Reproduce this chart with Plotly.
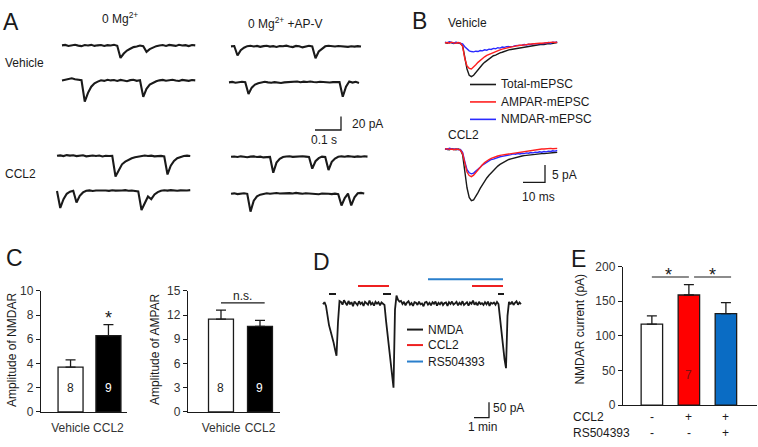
import plotly.graph_objects as go

W, H = 758, 447
FONT = "Liberation Sans, Arial, sans-serif"
INK = "#1a1a1a"
FS = 12

# ---------------- Panel A: mEPSC recordings (pA, sampled every DT_A s) ----------------
DT_A = 0.0125
A_VEH_0MG_1 = [0.5,1.2,-0.3,0.8,1.5,0.2,-0.6,1.0,0.4,1.3,-0.2,0.6,1.1,-0.4,0.9,0.3,1.4,0.0,-18.0,-11.5,
               -7.0,-4.5,-2.0,-1.2,0.3,-0.8,-9.0,-5.0,-2.5,-0.6,0.4,1.0,-0.3,1.2,0.5,-0.2,1.4,0.3,0.9,-0.5,1.1,0.6]
A_VEH_0MG_2 = [0.3,1.0,2.5,3.5,2.0,1.5,0.5,-31.0,-18.0,-9.0,-4.0,-1.5,0.5,-0.4,1.2,0.3,0.8,-0.5,1.0,0.2,
               -0.8,0.7,1.3,-0.3,0.5,-24.0,-12.0,-6.0,-3.0,-1.0,0.4,1.1,-0.2,0.8,1.3,0.2,-0.5,1.0,0.6,-0.3,0.9,0.4]
A_VEH_APV_1 = [0.5,1.0,-13.0,-5.0,-1.5,0.8,1.5,0.3,1.2,-0.2,0.9,1.4,0.2,0.8,-0.3,1.1,0.6,1.5,0.4,-0.5,
               1.2,0.7,-1.0,0.3,1.3,0.5,-17.0,-7.0,-2.5,0.6,1.4,0.9,0.3,1.0,0.4,0.8,-0.2,0.6,0.2,0.9,0.3]
A_VEH_APV_2 = [0.3,1.0,-0.2,0.8,1.2,0.5,-17.0,-7.5,-3.0,-1.0,0.4,1.1,0.3,-0.2,0.6,0.0,-0.6,0.3,0.8,0.2,
               1.0,1.5,0.5,1.3,0.8,1.6,0.9,0.4,1.2,0.6,1.0,0.2,0.7,0.4,0.9,-21.0,-6.0,1.5,0.0,1.2,-0.5]
A_CCL2_0MG_1 = [0.5,1.2,0.2,1.6,0.8,1.3,0.1,0.9,1.4,-0.2,0.7,1.0,0.3,0.9,-0.4,0.6,0.2,0.5,-30.0,-20.0,
                -12.0,-8.0,-5.0,-3.0,-1.5,-0.5,0.3,1.0,0.2,0.8,-0.3,0.6,0.4,-0.5,-27.0,-14.0,-7.0,-3.0,-1.0,0.3,0.8,0.2]
A_CCL2_0MG_2 = [0.0,-25.0,-12.0,-4.0,-1.0,0.5,-17.0,-7.0,-2.0,0.4,1.0,0.2,0.8,1.2,0.5,0.9,0.3,1.1,0.6,0.2,
                0.8,1.3,0.4,0.7,0.0,-0.5,-28.0,-18.0,-8.0,-12.0,-5.0,-1.5,0.5,1.1,0.6,1.3,0.8,0.4,1.0,1.5,0.9,1.3]
A_CCL2_APV_1 = [0.5,1.0,0.3,1.2,0.6,-0.2,0.8,1.1,0.2,0.7,-0.4,0.5,0.3,-23.0,-8.0,-2.5,0.2,0.9,1.3,0.4,
                1.0,0.6,1.4,0.8,0.2,-17.0,-6.0,-1.5,0.8,0.3,-19.0,-7.0,-2.0,0.5,1.2,0.7,1.5,0.9,0.4,1.1,0.6,1.3,0.8]
A_CCL2_APV_2 = [0.3,0.9,-0.2,0.6,1.1,0.2,-26.0,-10.0,-3.5,-1.0,0.5,1.0,0.3,0.8,1.3,0.6,1.0,0.4,1.2,0.7,
                1.5,0.9,0.3,1.1,0.5,0.8,0.2,-0.5,0.6,1.0,0.4,-0.3,0.5,-0.2,-17.0,-6.0,0.5,-17.0,-5.0,1.0,1.6,0.8]
A_SCALE = (0.1, 20)  # s, pA

# ---------------- Panel B: averaged mEPSCs (pA, every DT_B ms) ----------------
DT_B = 1.0
B_VEH_TOTAL = [0.1,-0.1,0.2,0.0,-0.2,0.1,0.0,-0.2,-0.8,-4.0,-7.5,-9.3,-9.7,-9.3,-8.5,-7.6,-6.9,-6.2,
               -5.6,-5.1,-4.5,-4.2,-3.7,-3.5,-3.1,-2.9,-2.7,-2.4,-2.3,-2.0,-1.9,-1.8,-1.6,-1.5,-1.3,-1.3,
               -1.1,-1.0,-1.0,-0.8,-0.8,-0.7,-0.6,-0.6,-0.4,-0.5,-0.3,-0.2,-0.3,-0.1,0.0,0.1]
B_VEH_AMPAR = [0.0,0.1,-0.1,0.2,0.0,-0.1,0.1,-0.1,-1.0,-4.5,-6.6,-7.3,-7.5,-7.0,-6.3,-5.6,-5.0,-4.5,
               -4.0,-3.6,-3.3,-3.0,-2.7,-2.4,-2.2,-2.0,-1.8,-1.6,-1.5,-1.3,-1.2,-1.1,-0.9,-0.9,-0.7,-0.7,
               -0.5,-0.5,-0.4,-0.3,-0.3,-0.2,-0.2,-0.1,-0.1,0.0,0.1,0.0,0.1,0.2,0.1,0.2]
B_VEH_NMDAR = [0.2,0.0,0.3,0.1,-0.1,0.2,0.1,0.0,-0.3,-1.1,-1.8,-2.3,-2.5,-2.6,-2.4,-2.5,-2.2,-2.3,
               -2.0,-2.1,-1.8,-1.9,-1.6,-1.7,-1.4,-1.5,-1.2,-1.3,-1.1,-1.1,-0.9,-1.0,-0.8,-0.8,-0.6,-0.7,
               -0.5,-0.6,-0.4,-0.5,-0.3,-0.3,-0.2,-0.3,-0.1,-0.2,0.0,0.1,-0.1,0.2,0.1,0.3]
B_CCL2_TOTAL = [0.1,0.0,-0.1,0.2,0.0,-0.1,0.1,-0.1,-1.5,-6.0,-11.0,-13.8,-14.7,-14.5,-13.6,-12.4,-11.2,-10.1,
                -9.1,-8.2,-7.4,-6.7,-6.0,-5.3,-4.8,-4.3,-3.9,-3.5,-3.2,-2.9,-2.7,-2.5,-2.3,-2.1,-2.0,-1.9,
                -1.8,-1.7,-1.6,-1.6,-1.5,-1.4,-1.4,-1.3,-1.2,-1.2,-1.1,-1.0,-1.0,-0.9,-0.8,-0.8]
B_CCL2_AMPAR = [0.0,0.2,0.0,0.1,-0.1,0.1,0.0,-0.2,-1.2,-4.2,-6.5,-7.5,-7.8,-7.4,-6.6,-5.8,-5.0,-4.4,
                -3.8,-3.3,-2.9,-2.6,-2.3,-2.1,-1.9,-1.7,-1.6,-1.4,-1.4,-1.2,-1.1,-1.0,-0.9,-0.8,-0.7,-0.6,
                -0.5,-0.4,-0.3,-0.2,-0.2,-0.1,0.0,0.0,0.1,0.1,0.2,0.2,0.3,0.2,0.3,0.3]
B_CCL2_NMDAR = [0.2,0.0,0.3,0.1,0.0,0.2,-0.1,0.0,-0.8,-3.5,-5.8,-6.7,-7.0,-6.8,-6.3,-5.6,-5.1,-4.5,
                -4.1,-3.6,-3.3,-2.9,-2.8,-2.5,-2.4,-2.1,-2.0,-1.8,-1.7,-1.6,-1.5,-1.3,-1.4,-1.2,-1.3,-1.1,
                -1.2,-1.0,-1.1,-0.9,-1.0,-0.8,-0.9,-0.7,-0.8,-0.6,-0.7,-0.5,-0.6,-0.4,-0.5,-0.3]
B_NAMES = ["Total-mEPSC", "AMPAR-mEPSC", "NMDAR-mEPSC"]
B_SCALE = (10, 5)  # ms, pA

# ---------------- Panel C: amplitudes ----------------
C_GROUPS = ["Vehicle", "CCL2"]
C_NMDAR_MEAN = [3.7, 6.3]
C_NMDAR_SEM = [0.6, 0.9]
C_AMPAR_MEAN = [11.5, 10.6]
C_AMPAR_SEM = [1.1, 0.75]
C_N = [8, 9]

# ---------------- Panel D: NMDA-evoked current (pA, every DT_D s) ----------------
DT_D = 6.0
D_CURRENT = ([-3, 4, -8, -45, -70, -88, -105, -125, -148, -169, -60, 8]
             + [5,-4,10,2,-6,8,-3,4,-9,6,1,-5,7,-2,3,-8,5,0,-4,9,-3,2,-7,5,-1,4,-6,3,-2,-5]
             + [-55, -100, -140, -180, -235, -272, -20, 25, 12, 6]
             + [8,-2,5,-6,3,7,-4,1,-8,4,2,-5,6,-3,0,-9,3,5,-4,2,-6,4,-1,6,-7,2,-3,5,-5,1,
                3,-8,4,-2,6,-4,0,5,-6,2,-3,7,-5,1,4,-7,3,-1,9,-4,2,-6,5,-2,1,-5,4,-3,6,-8,
                2,-1,3,-4,5,-2]
             + [-50, -95, -140, -180, -209, -40, 5]
             + [-3, 6, -5, 2, 7, -4, 3, -2])
D_NMDA_ON = [(24, 52), (240, 272), (700, 724)]   # s
D_CCL2_ON = [(140, 264), (596, 720)]
D_RS_ON = [(420, 720)]
D_NAMES = ["NMDA", "CCL2", "RS504393"]
D_SCALE = (60, 50)  # s, pA

# ---------------- Panel E: NMDAR current ----------------
E_MEAN = [117, 159, 132]
E_SEM = [12, 15, 16]
E_CCL2 = ["-", "+", "+"]
E_RS = ["-", "-", "+"]
E_N = "7"

# ======================================================================
fig = go.Figure()
_n = [0]


def new_axes(box, xr, yr, xkw=None, ykw=None):
    _n[0] += 1
    s = "" if _n[0] == 1 else str(_n[0])
    x0, y0, x1, y1 = box
    xa = dict(domain=[x0 / W, x1 / W], range=xr, anchor="y" + s, visible=False, fixedrange=True)
    ya = dict(domain=[1 - y1 / H, 1 - y0 / H], range=yr, anchor="x" + s, visible=False, fixedrange=True)
    if xkw:
        xa.update(xkw)
    if ykw:
        ya.update(ykw)
    fig.update_layout({"xaxis" + s: xa, "yaxis" + s: ya})
    return "x" + s, "y" + s


def scaled_axes(box, t0_px, base_px, sx, sy):
    x0, y0, x1, y1 = box
    return new_axes(box, [(x0 - t0_px) * sx, (x1 - t0_px) * sx],
                    [-(y1 - base_px) * sy, (base_px - y0) * sy])


def line(xa, ya, y=None, x=None, color=INK, width=1.4, dx=None):
    kw = dict(mode="lines", line=dict(color=color, width=width), xaxis=xa, yaxis=ya,
              hoverinfo="skip", showlegend=False)
    if dx is not None:
        kw.update(y=y, x0=0, dx=dx)
    else:
        kw.update(x=x, y=y)
    fig.add_trace(go.Scatter(**kw))


annotations = []
shapes = []


def txt(x, y, text, size=FS, xanchor="center", color=INK, **kw):
    annotations.append(dict(x=x / W, y=1 - y / H, xref="paper", yref="paper", text=text,
                            showarrow=False, xanchor=xanchor, yanchor="middle",
                            font=dict(size=size, color=color, family=FONT), **kw))


def pline(x0, y0, x1, y1, color=INK, width=1.5):
    shapes.append(dict(type="line", xref="paper", yref="paper", x0=x0 / W, x1=x1 / W,
                       y0=1 - y0 / H, y1=1 - y1 / H, line=dict(color=color, width=width)))


# ---------------- Panel A ----------------
SX_A, SY_A = 0.1 / 26, 20 / 14
A_PLACES = [(A_VEH_0MG_1, 62, 40), (A_VEH_0MG_2, 62, 76), (A_VEH_APV_1, 231, 41), (A_VEH_APV_2, 229, 78),
            (A_CCL2_0MG_1, 57, 154), (A_CCL2_0MG_2, 57, 190), (A_CCL2_APV_1, 231, 155), (A_CCL2_APV_2, 231, 193)]
for vals, xs, yb in A_PLACES:
    xa, ya = scaled_axes((xs - 3, yb - 14, xs + 142, yb + 30), xs, yb, SX_A, SY_A)
    line(xa, ya, y=vals, dx=DT_A, width=2.1)
xa, ya = scaled_axes((310, 105, 346, 132), 315, 127, SX_A, SY_A)
line(xa, ya, x=[0, A_SCALE[0], A_SCALE[0]], y=[0, 0, A_SCALE[1]], width=1.3)

txt(11, 15, "A", size=23)
txt(120, 11, "0 Mg<sup>2+</sup>")
txt(285, 17, "0 Mg<sup>2+</sup> +AP-V")
txt(3, 58, "Vehicle", xanchor="left")
txt(3, 172, "CCL2", xanchor="left")
txt(350, 121, "20 pA", xanchor="left")
txt(324, 137, "0.1 s")

# ---------------- Panel B ----------------
SX_B, SY_B = 10 / 22, 5 / 18
B_COLORS = [INK, "#ff2020", "#2a2aff"]
xa, ya = scaled_axes((440, 26, 566, 82), 445, 37, SX_B, SY_B)
for vals, c in [(B_VEH_TOTAL, B_COLORS[0]), (B_VEH_NMDAR, B_COLORS[2]), (B_VEH_AMPAR, B_COLORS[1])]:
    line(xa, ya, y=vals, dx=DT_B, color=c, width=1.4)
xa, ya = scaled_axes((440, 136, 566, 208), 445, 147, SX_B, SY_B)
for vals, c in [(B_CCL2_TOTAL, B_COLORS[0]), (B_CCL2_NMDAR, B_COLORS[2]), (B_CCL2_AMPAR, B_COLORS[1])]:
    line(xa, ya, y=vals, dx=DT_B, color=c, width=1.4)
xa, ya = scaled_axes((518, 158, 550, 186), 523, 181, SX_B, SY_B)
line(xa, ya, x=[0, B_SCALE[0], B_SCALE[0]], y=[0, 0, B_SCALE[1]], width=1.3)

txt(419, 14, "B", size=23)
txt(446, 17, "Vehicle", xanchor="left")
txt(446, 132, "CCL2", xanchor="left")
for i, (name, c) in enumerate(zip(B_NAMES, B_COLORS)):
    yy = 80 + 18 * i
    pline(470, yy, 496, yy, color=c, width=1.6)
    txt(499, yy, name, xanchor="left")
txt(550, 173, "5 pA", xanchor="left")
txt(538, 196, "10 ms")

# ---------------- Panel C ----------------
bar_axis_y = dict(visible=True, showline=True, linecolor=INK, linewidth=1.2, ticks="outside",
                  ticklen=4, tickwidth=1, tickcolor=INK, showgrid=False, zeroline=False,
                  tickfont=dict(size=FS, color="#333", family=FONT))
bar_axis_x = dict(visible=True, showline=True, linecolor=INK, linewidth=1.2, ticks="",
                  showgrid=False, zeroline=False, ticklabelstandoff=4,
                  tickfont=dict(size=FS, color="#333", family=FONT))


def bar_panel(box, xr, yr, dtick, means, sems, colors, width, labels=None):
    xk = dict(bar_axis_x)
    if labels:
        xk.update(tickvals=list(range(len(labels))), ticktext=labels)
    else:
        xk.update(showticklabels=False)
    yk = dict(bar_axis_y, tick0=0, dtick=dtick)
    xa, ya = new_axes(box, xr, yr, xk, yk)
    fig.add_trace(go.Bar(x=list(range(len(means))), y=means, width=width, xaxis=xa, yaxis=ya,
                         marker=dict(color=colors, line=dict(color=INK, width=1.3)),
                         error_y=dict(type="data", array=sems, arrayminus=[0] * len(sems),
                                      symmetric=False, color=INK, thickness=1.3, width=5),
                         hoverinfo="skip", showlegend=False))
    return xa, ya


xa, ya = bar_panel((41, 293, 127, 418), [-0.78, 1.49], [0, 10], 2, C_NMDAR_MEAN, C_NMDAR_SEM,
                   ["white", "black"], 0.66, C_GROUPS)
for i, n in enumerate(C_N):
    annotations.append(dict(x=i, y=2, xref=xa, yref=ya, text=str(n), showarrow=False,
                            font=dict(size=FS, color=["#222", "white"][i], family=FONT)))
annotations.append(dict(x=1, y=7.75, xref=xa, yref=ya, text="*", showarrow=False,
                        font=dict(size=18, color=INK, family=FONT)))

xa, ya = bar_panel((188, 293, 280, 418), [-0.846, 1.513], [0, 15], 3, C_AMPAR_MEAN, C_AMPAR_SEM,
                   ["white", "black"], 0.64, C_GROUPS)
for i, n in enumerate(C_N):
    annotations.append(dict(x=i, y=3, xref=xa, yref=ya, text=str(n), showarrow=False,
                            font=dict(size=FS, color=["#222", "white"][i], family=FONT)))
shapes.append(dict(type="line", xref=xa, yref=ya, x0=0, x1=1.12, y0=13.5, y1=13.5,
                   line=dict(color=INK, width=1.2)))
annotations.append(dict(x=0.56, y=14.4, xref=xa, yref=ya, text="n.s.", showarrow=False,
                        font=dict(size=FS, color=INK, family=FONT)))

txt(14, 259, "C", size=23)
txt(12, 354, "Amplitude of NMDAR", textangle=-90)
txt(155, 354, "Amplitude of AMPAR", textangle=-90)

# ---------------- Panel D ----------------
SX_D, SY_D = 60 / 15, 50 / 16
D_COLORS = [INK, "#ee2020", "#2a7fcc"]
xa, ya = scaled_axes((316, 272, 526, 402), 323, 306, SX_D, SY_D)
line(xa, ya, y=D_CURRENT, dx=DT_D, width=1.8)
for periods, level, c in [(D_NMDA_ON, 30, D_COLORS[0]), (D_CCL2_ON, 56, D_COLORS[1]),
                          (D_RS_ON, 78, D_COLORS[2])]:
    for a, b in periods:
        line(xa, ya, x=[a, b], y=[level, level], color=c, width=2)
xa, ya = scaled_axes((470, 404, 494, 428), 474, 424, SX_D, SY_D)
line(xa, ya, x=[0, D_SCALE[0], D_SCALE[0]], y=[0, 0, D_SCALE[1]], width=1.3)

txt(321, 263, "D", size=23)
for i, (name, c) in enumerate(zip(D_NAMES, D_COLORS)):
    yy = [333, 349, 366][i]
    pline(407, yy, 423, yy, color=c, width=2)
    txt(426, yy, name, xanchor="left")
txt(491, 414, "50 pA", xanchor="left")
txt(482, 434, "1 min")

# ---------------- Panel E ----------------
xa, ya = bar_panel((623, 268, 757, 411), [-0.78, 2.84], [0, 200], 50, E_MEAN, E_SEM,
                   ["white", "#ff0000", "#0a6cc4"], 0.58)
annotations.append(dict(x=1, y=43, xref=xa, yref=ya, text=E_N, showarrow=False,
                        font=dict(size=FS, color="#7a1010", family=FONT)))
for x0, x1, xs in [(0, 1.0, 0.46), (1.14, 2.14, 1.65)]:
    shapes.append(dict(type="line", xref=xa, yref=ya, x0=x0, x1=x1, y0=185, y1=185,
                       line=dict(color=INK, width=1.2)))
    annotations.append(dict(x=xs, y=188, xref=xa, yref=ya, text="*", showarrow=False,
                            font=dict(size=18, color=INK, family=FONT)))
for row, signs in [(423, E_CCL2), (440, E_RS)]:
    for i, s in enumerate(signs):
        annotations.append(dict(x=i, y=1 - row / H, xref=xa, yref="paper", text=s, showarrow=False,
                                yanchor="middle", font=dict(size=FS, color=INK, family=FONT)))
txt(571, 423, "CCL2", xanchor="left")
txt(571, 440, "RS504393", xanchor="left")
txt(578, 260, "E", size=23)
txt(580, 333, "NMDAR current (pA)", textangle=-90)

fig.update_layout(width=W, height=H, margin=dict(l=0, r=0, t=0, b=0), autosize=False,
                  paper_bgcolor="white", plot_bgcolor="white", showlegend=False,
                  font=dict(family=FONT, color=INK), bargap=0,
                  annotations=annotations, shapes=shapes)
fig.write_html("out.html", config={"displayModeBar": False, "staticPlot": True},
               post_script="document.body.style.margin='0';document.body.style.overflow='hidden';")
